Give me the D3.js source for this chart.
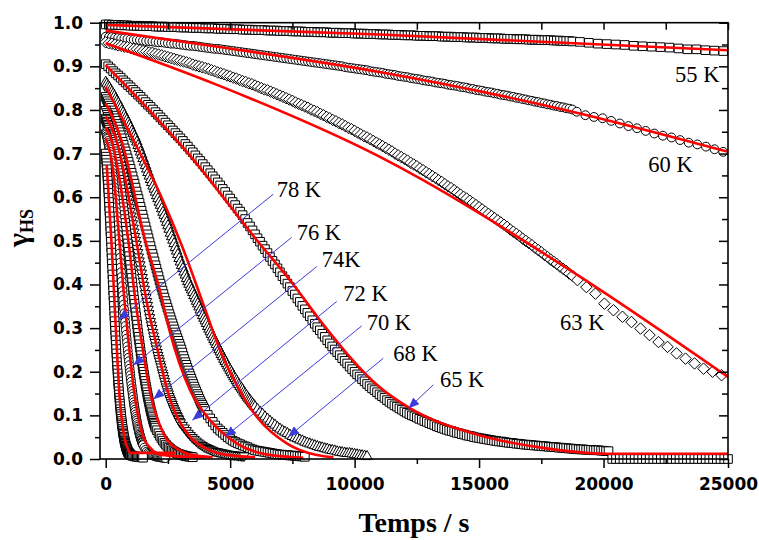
<!DOCTYPE html>
<html><head><meta charset="utf-8">
<script src="https://cdn.jsdelivr.net/npm/d3@7"></script>
<style>body{margin:0;background:#fff}</style>
</head><body>
<svg id="chart" width="759" height="540"></svg>
<script>
// ---------------- DATA ----------------
const xMajorTicks = [0, 5000, 10000, 15000, 20000, 25000];
const xMinorTicks = [2500, 7500, 12500, 17500, 22500];
const yMajorTicks = [0, 0.1, 0.2, 0.3, 0.4, 0.5, 0.6, 0.7, 0.8, 0.9, 1.0];
const yMinorTicks = [0.05, 0.15, 0.25, 0.35, 0.45, 0.55, 0.65, 0.75, 0.85, 0.95];

// measured gamma_HS values; every block = [start time (s), sampling step (s), values]
// 55 K : 0..18750 every 125 s, then every 360 s from 19050
const v55a = [0.996,0.996,0.995,0.995,0.995,0.994,0.994,0.994,
 0.993,0.993,0.993,0.993,0.992,0.992,0.992,0.992,
 0.991,0.991,0.991,0.991,0.990,0.990,0.990,0.990,
 0.989,0.989,0.989,0.989,0.988,0.988,0.988,0.988,
 0.987,0.987,0.987,0.987,0.986,0.986,0.986,0.986,
 0.985,0.985,0.985,0.985,0.984,0.984,0.984,0.984,
 0.983,0.983,0.983,0.983,0.982,0.982,0.982,0.982,
 0.981,0.981,0.981,0.981,0.980,0.980,0.980,0.980,
 0.979,0.979,0.979,0.979,0.978,0.978,0.978,0.978,
 0.977,0.977,0.977,0.977,0.976,0.976,0.976,0.976,
 0.975,0.975,0.975,0.975,0.974,0.974,0.974,0.974,
 0.973,0.973,0.973,0.973,0.972,0.972,0.972,0.972,
 0.971,0.971,0.971,0.971,0.970,0.970,0.970,0.970,
 0.969,0.969,0.969,0.969,0.968,0.968,0.968,0.968,
 0.967,0.967,0.967,0.967,0.966,0.966,0.966,0.966,
 0.965,0.965,0.965,0.965,0.964,0.964,0.964,0.964,
 0.963,0.963,0.963,0.963,0.962,0.962,0.962,0.962,
 0.961,0.961,0.961,0.961,0.960,0.960,0.960,0.960,
 0.959,0.959,0.959,0.958,0.958,0.958,0.957];
const v55b = [0.956,0.954,0.952,0.951,0.950,0.949,0.947,0.946,0.945,0.944,0.943,0.941,0.939,0.939,0.937,0.936,0.935];

// 60 K : 0..18750 every 125 s, then every 346 s from 18924
const v60a = [0.968,0.967,0.967,0.966,0.965,0.964,0.964,0.963,
 0.962,0.961,0.961,0.960,0.959,0.958,0.958,0.957,
 0.956,0.955,0.955,0.954,0.953,0.952,0.952,0.951,
 0.950,0.949,0.948,0.947,0.947,0.946,0.945,0.944,
 0.943,0.942,0.941,0.940,0.940,0.939,0.938,0.937,
 0.936,0.935,0.934,0.933,0.932,0.931,0.930,0.929,
 0.928,0.927,0.926,0.925,0.924,0.923,0.922,0.921,
 0.920,0.919,0.918,0.917,0.916,0.915,0.914,0.913,
 0.912,0.911,0.910,0.909,0.908,0.907,0.906,0.905,
 0.904,0.903,0.902,0.901,0.900,0.898,0.897,0.896,
 0.895,0.894,0.893,0.892,0.891,0.889,0.888,0.887,
 0.886,0.885,0.883,0.882,0.881,0.880,0.878,0.877,
 0.876,0.875,0.873,0.872,0.871,0.870,0.868,0.867,
 0.866,0.865,0.863,0.862,0.861,0.860,0.858,0.857,
 0.856,0.855,0.853,0.852,0.851,0.849,0.848,0.846,
 0.845,0.844,0.842,0.841,0.840,0.838,0.837,0.835,
 0.834,0.833,0.831,0.830,0.828,0.827,0.825,0.824,
 0.822,0.821,0.819,0.818,0.816,0.815,0.813,0.812,
 0.810,0.809,0.807,0.806,0.804,0.803,0.801];
const v60b = [0.796,0.788,0.784,0.781,0.775,0.769,0.763,0.758,0.752,0.746,0.741,0.737,0.731,0.725,0.721,0.716,0.710,0.704];

// 63 K : 0..18750 every 125 s, then every 362 s from 18950
const v63a = [0.955,0.953,0.952,0.950,0.948,0.947,0.945,0.944,
 0.942,0.940,0.939,0.937,0.935,0.934,0.932,0.931,
 0.929,0.927,0.925,0.923,0.921,0.919,0.917,0.915,
 0.913,0.911,0.909,0.907,0.904,0.902,0.900,0.898,
 0.896,0.894,0.891,0.889,0.886,0.884,0.882,0.879,
 0.877,0.874,0.872,0.869,0.866,0.864,0.861,0.859,
 0.856,0.853,0.850,0.847,0.845,0.842,0.839,0.836,
 0.833,0.830,0.827,0.824,0.821,0.817,0.814,0.811,
 0.808,0.805,0.801,0.798,0.795,0.791,0.788,0.784,
 0.781,0.777,0.774,0.770,0.767,0.763,0.759,0.756,
 0.752,0.748,0.744,0.740,0.737,0.733,0.729,0.725,
 0.721,0.717,0.713,0.709,0.705,0.700,0.696,0.692,
 0.688,0.684,0.679,0.675,0.671,0.666,0.662,0.657,
 0.653,0.648,0.644,0.639,0.635,0.630,0.625,0.621,
 0.616,0.611,0.606,0.601,0.597,0.592,0.587,0.582,
 0.577,0.572,0.567,0.562,0.557,0.552,0.547,0.542,
 0.537,0.532,0.526,0.521,0.516,0.511,0.505,0.500,
 0.495,0.490,0.484,0.479,0.474,0.468,0.463,0.457,
 0.452,0.447,0.441,0.436,0.431,0.425,0.420];
const v63b = [0.410,0.394,0.379,0.356,0.341,0.326,0.314,0.299,0.284,0.268,0.257,0.242,0.230,0.219,0.207,0.200,0.192];

// 65 K : 0..12000 every 100 s, 12100..20200 every 100 s, then 0 from 20350 every 150 s
const v65a = [0.905,0.900,0.895,0.889,0.884, 0.879,0.874,0.868,0.863,0.857,
 0.852,0.846,0.841,0.835,0.830, 0.824,0.818,0.812,0.807,0.801,
 0.795,0.789,0.783,0.777,0.771, 0.765,0.759,0.753,0.747,0.741,
 0.735,0.729,0.722,0.716,0.709, 0.703,0.696,0.689,0.683,0.676,
 0.669,0.662,0.655,0.648,0.641, 0.634,0.627,0.619,0.612,0.604,
 0.597,0.589,0.582,0.574,0.567, 0.559,0.550,0.541,0.533,0.524,
 0.515,0.506,0.498,0.489,0.481, 0.472,0.463,0.454,0.446,0.437,
 0.428,0.419,0.411,0.402,0.394, 0.385,0.377,0.368,0.360,0.351,
 0.343,0.335,0.327,0.318,0.310, 0.302,0.295,0.287,0.280,0.272,
 0.265,0.258,0.251,0.245,0.238, 0.231,0.225,0.219,0.212,0.206,
 0.200,0.194,0.189,0.183,0.178, 0.172,0.167,0.162,0.158,0.153,
 0.148,0.144,0.140,0.135,0.131, 0.127,0.123,0.120,0.116,0.113,
 0.109];
const v65b = [0.106,0.103,0.100,0.098,0.095,0.092,0.090,0.087,0.085,0.082,
 0.080,0.078,0.075,0.073,0.071,0.069,0.067,0.065,0.064,0.062,
 0.060,0.059,0.057,0.056,0.054,0.053,0.052,0.050,0.049,0.048,
 0.047,0.046,0.045,0.044,0.043,0.042,0.041,0.040,0.040,0.039,
 0.038,0.037,0.037,0.036,0.035,0.035,0.034,0.033,0.033,0.032,
 0.032,0.031,0.031,0.030,0.030,0.029,0.029,0.028,0.028,0.027,
 0.027,0.026,0.026,0.025,0.025,0.024,0.024,0.023,0.023,0.022,
 0.022,0.022,0.021,0.021,0.021,0.020,0.020,0.020,0.019,0.019,
 0.018,0.018];
const v65c = [0,0,0,0,0,0,0,0,0,0,0,0,0,0,0,0,0,0,0,0,0,0,0,0,0,0,0,0,0,0,0,0];

// 68 K : 0..6000 every 50 s, 6100..10500 every 100 s
const v68a = [0.865,0.861,0.856,0.852,0.847,0.843, 0.838,0.833,0.827,0.822,0.817,0.811,
 0.806,0.800,0.795,0.789,0.783,0.778, 0.772,0.766,0.760,0.753,0.747,0.741,
 0.735,0.728,0.720,0.713,0.705,0.698, 0.690,0.682,0.674,0.666,0.658,0.650,
 0.642,0.635,0.627,0.620,0.613,0.605, 0.598,0.590,0.583,0.575,0.567,0.560,
 0.552,0.544,0.536,0.528,0.519,0.511, 0.503,0.495,0.486,0.478,0.470,0.461,
 0.453,0.445,0.438,0.430,0.423,0.415, 0.408,0.402,0.395,0.389,0.383,0.376,
 0.370,0.363,0.357,0.350,0.343,0.337, 0.330,0.324,0.318,0.312,0.305,0.299,
 0.293,0.287,0.281,0.275,0.270,0.264, 0.258,0.252,0.247,0.241,0.236,0.230,
 0.225,0.220,0.215,0.210,0.205,0.200, 0.195,0.190,0.186,0.181,0.177,0.172,
 0.168,0.164,0.160,0.155,0.151,0.147, 0.143,0.139,0.136,0.132,0.128,0.125,
 0.121];
const v68b = [0.115,0.109,0.104,0.098,0.093,0.088,0.083,0.079,0.074,0.070,
 0.066,0.063,0.060,0.056,0.053,0.050,0.048,0.045,0.043,0.040,
 0.038,0.036,0.034,0.032,0.030,0.028,0.027,0.025,0.024,0.022,
 0.021,0.020,0.018,0.017,0.016,0.015,0.014,0.014,0.013,0.012,
 0.011,0.010,0.009,0.008,0.007];

// 70 K : 0..4000 every 40 s, 4100..8000 every 100 s
const v70a = [0.830,0.825,0.820,0.815,0.810, 0.805,0.799,0.793,0.787,0.781,
 0.775,0.768,0.762,0.755,0.749, 0.742,0.735,0.727,0.720,0.712,
 0.705,0.697,0.689,0.681,0.673, 0.665,0.656,0.648,0.639,0.631,
 0.622,0.613,0.604,0.596,0.587, 0.578,0.569,0.560,0.551,0.542,
 0.533,0.524,0.515,0.506,0.497, 0.488,0.479,0.470,0.462,0.453,
 0.444,0.436,0.427,0.419,0.410, 0.402,0.394,0.386,0.378,0.370,
 0.362,0.355,0.347,0.340,0.332, 0.325,0.318,0.311,0.304,0.297,
 0.290,0.284,0.277,0.271,0.264, 0.258,0.251,0.244,0.236,0.229,
 0.222,0.216,0.209,0.203,0.196, 0.190,0.184,0.178,0.172,0.166,
 0.160,0.155,0.149,0.144,0.138, 0.133,0.128,0.124,0.119,0.115,
 0.110];
const v70b = [0.101,0.093,0.085,0.077,0.070,0.065,0.060,0.055,0.050,0.046,
 0.042,0.039,0.036,0.034,0.031,0.029,0.027,0.024,0.022,0.020,
 0.019,0.018,0.017,0.016,0.015,0.014,0.013,0.012,0.011,0.010,
 0.010,0.009,0.009,0.008,0.008,0.007,0.007,0.006,0.006,0.005];

// 72 K : 0..3000 every 30 s, 3080..5560 every 80 s
const v72a = [0.800,0.795,0.791,0.786,0.782, 0.777,0.771,0.766,0.760,0.755,
 0.749,0.743,0.736,0.730,0.723, 0.717,0.710,0.702,0.695,0.687,
 0.680,0.672,0.664,0.655,0.647, 0.639,0.630,0.621,0.612,0.603,
 0.594,0.585,0.575,0.566,0.556, 0.547,0.538,0.528,0.519,0.509,
 0.500,0.491,0.481,0.472,0.462, 0.453,0.444,0.434,0.425,0.415,
 0.406,0.397,0.388,0.378,0.369, 0.360,0.351,0.342,0.332,0.323,
 0.314,0.306,0.298,0.289,0.281, 0.273,0.266,0.258,0.251,0.243,
 0.236,0.229,0.223,0.216,0.210, 0.203,0.196,0.190,0.183,0.177,
 0.170,0.164,0.159,0.153,0.148, 0.142,0.137,0.133,0.128,0.124,
 0.119,0.115,0.111,0.107,0.103, 0.099,0.096,0.092,0.089,0.085,
 0.082];
const v72b = [0.076,0.070,0.064,0.058,0.053,0.048,0.044,0.040,0.036,0.033,
 0.030,0.027,0.025,0.023,0.021,0.019,0.017,0.016,0.015,0.014,
 0.013,0.012,0.011,0.010,0.009,0.009,0.008,0.008,0.007,0.007,0.006,0.006];

// 74 K : 0..2000 every 20 s, 2060..3500 every 60 s
const v74a = [0.780,0.777,0.773,0.770,0.766, 0.763,0.759,0.755,0.750,0.746,
 0.742,0.737,0.732,0.727,0.722, 0.717,0.711,0.705,0.700,0.694,
 0.688,0.681,0.675,0.668,0.662, 0.655,0.648,0.640,0.633,0.625,
 0.618,0.610,0.602,0.593,0.585, 0.577,0.568,0.559,0.550,0.541,
 0.532,0.523,0.513,0.504,0.494, 0.485,0.475,0.465,0.455,0.445,
 0.435,0.425,0.415,0.405,0.395, 0.385,0.375,0.365,0.356,0.346,
 0.336,0.327,0.317,0.308,0.298, 0.289,0.280,0.272,0.263,0.255,
 0.246,0.238,0.230,0.223,0.215, 0.207,0.200,0.193,0.186,0.179,
 0.172,0.166,0.160,0.153,0.147, 0.141,0.136,0.130,0.125,0.119,
 0.114,0.109,0.105,0.100,0.096, 0.091,0.087,0.083,0.080,0.076,
 0.072];
const v74b = [0.066,0.059,0.053,0.047,0.042,0.037,0.033,0.029,0.026,0.023,
 0.020,0.018,0.016,0.014,0.012,0.011,0.010,0.009,0.008,0.007,
 0.006,0.006,0.005,0.005,0.004];

// 76 K : 0..1500 every 15 s, 1550..2400 every 50 s
const v76a = [0.750,0.747,0.744,0.740,0.737, 0.734,0.729,0.724,0.720,0.715,
 0.710,0.704,0.698,0.691,0.685, 0.679,0.671,0.664,0.656,0.649,
 0.641,0.632,0.623,0.615,0.606, 0.597,0.587,0.577,0.567,0.557,
 0.547,0.536,0.525,0.515,0.504, 0.493,0.482,0.471,0.461,0.450,
 0.439,0.428,0.417,0.407,0.396, 0.385,0.375,0.365,0.354,0.344,
 0.334,0.324,0.314,0.305,0.295, 0.285,0.276,0.267,0.258,0.249,
 0.240,0.232,0.224,0.215,0.207, 0.199,0.192,0.184,0.177,0.169,
 0.162,0.156,0.149,0.143,0.136, 0.130,0.124,0.119,0.113,0.108,
 0.102,0.097,0.092,0.088,0.083, 0.078,0.074,0.070,0.067,0.063,
 0.059,0.056,0.053,0.050,0.047, 0.044,0.042,0.039,0.037,0.034,
 0.032];
const v76b = [0.026,0.021,0.017,0.014,0.012,0.010,0.009,0.008,0.007,0.006,
 0.005,0.005,0.004,0.004,0.003,0.003,0.003,0.002];

// 78 K : 0..1000 every 10 s, 1050..1500 every 50 s
const v78a = [0.700,0.693,0.686,0.678,0.671, 0.664,0.655,0.646,0.638,0.629,
 0.620,0.610,0.599,0.589,0.578, 0.568,0.556,0.545,0.533,0.522,
 0.510,0.498,0.485,0.473,0.460, 0.448,0.436,0.423,0.411,0.398,
 0.386,0.374,0.362,0.351,0.339, 0.327,0.316,0.305,0.294,0.283,
 0.272,0.262,0.252,0.242,0.232, 0.222,0.213,0.204,0.196,0.187,
 0.178,0.170,0.163,0.155,0.148, 0.140,0.134,0.127,0.121,0.114,
 0.108,0.103,0.098,0.092,0.087, 0.082,0.078,0.074,0.069,0.065,
 0.061,0.058,0.055,0.051,0.048, 0.045,0.042,0.040,0.037,0.035,
 0.032,0.030,0.028,0.027,0.025, 0.023,0.022,0.020,0.019,0.017,
 0.016,0.015,0.014,0.014,0.013, 0.012,0.011,0.011,0.010,0.010,
 0.009];
const v78b = [0.008,0.007,0.006,0.006,0.005,0.005,0.004,0.004,0.004,0.003];

// fitted curves [time s, gamma_HS]
const fit55 = [[0,0.995],[11000,0.973],[25000,0.937]];
const fit60 = [[0,0.982],[4500,0.945],[11000,0.887],[18750,0.796],[25000,0.704]];
const fit63 = [[0,0.953],[4500,0.857],[11000,0.693],[18650,0.433],[25000,0.188]];
const fit65 = [[0,0.903],[3320,0.70],[6066,0.502],[7536,0.40],[8609,0.318],[11000,0.165],[12150,0.119],[15050,0.054],[17500,0.026],[20150,0.012],[25000,0.012]];
const fit68 = [[0,0.853],[1112,0.731],[2200,0.605],[3053,0.49],[3921,0.355],[4592,0.25],[5262,0.17],[6066,0.097],[7271,0.036],[8477,0.009],[9150,0.004]];
const fit70 = [[0,0.815],[630,0.731],[1594,0.5],[2181,0.385],[2583,0.29],[3387,0.158],[4190,0.089],[5262,0.036],[6500,0.01],[7938,0.003]];
const fit72 = [[0,0.785],[430,0.731],[1232,0.5],[1634,0.364],[1995,0.272],[2517,0.15],[3400,0.05],[4000,0.025],[4804,0.01],[6000,0.004]];
const fit74 = [[0,0.76],[229,0.731],[911,0.5],[1192,0.364],[1433,0.272],[1794,0.15],[2397,0.05],[2900,0.022],[3400,0.01],[4300,0.004]];
const fit76 = [[0,0.735],[300,0.66],[550,0.5],[751,0.364],[911,0.272],[1152,0.15],[1513,0.05],[1800,0.025],[2196,0.01],[4000,0.003]];
const fit78 = [[40,0.674],[229,0.5],[349,0.364],[430,0.272],[550,0.15],[751,0.05],[900,0.022],[1000,0.014],[2790,0.014]];

// annotations (data coordinates)
const labelTexts = ["78 K","76 K","74K","72 K","70 K","68 K","65 K","63 K","60 K","55 K"];
const labelAt = [[6870,0.600],[7673,0.502],[8678,0.441],[9545,0.361],[10485,0.296],[11554,0.225],[13430,0.164],[18251,0.296],[21799,0.658],[22871,0.865]];
const arrowFrom = [[6733,0.607],[7472,0.508],[8477,0.441],[9280,0.361],[10285,0.305],[11152,0.231],[13161,0.170]];
const arrowTo = [[506,0.319],[1109,0.215],[1912,0.137],[3479,0.089],[4793,0.051],[7336,0.051],[12157,0.116]];

// ---------------- CHART ----------------
const svg = d3.select("#chart");
svg.append("rect").attr("width",759).attr("height",540).attr("fill","#fff");
const X0 = 100, X1 = 728, Y0 = 459, Y1 = 22.7;
const x = d3.scaleLinear().domain([-229, 25000]).range([X0, X1]);
const y = d3.scaleLinear().domain([0, 1]).range([Y0, Y1]);

const symSquare = {draw(c,s){const h=s/2;c.moveTo(-h,-h);c.lineTo(h,-h);c.lineTo(h,h);c.lineTo(-h,h);c.closePath();}};
const symCircle = {draw(c,s){const r=s/2;c.moveTo(r,0);c.arc(0,0,r,0,2*Math.PI);}};
const symTriUp = {draw(c,s){const h=s*0.866;c.moveTo(0,-h*0.6);c.lineTo(s/2,h*0.4);c.lineTo(-s/2,h*0.4);c.closePath();}};
const symTriDown = {draw(c,s){const h=s*0.866;c.moveTo(0,h*0.6);c.lineTo(s/2,-h*0.4);c.lineTo(-s/2,-h*0.4);c.closePath();}};
const symDiamond = {draw(c,s){const r=s/2;c.moveTo(0,-r);c.lineTo(r,0);c.lineTo(0,r);c.lineTo(-r,0);c.closePath();}};

const seriesTable = [
  {sym:symSquare, size:8.6, blocks:[[0,125,v55a],[19050,360,v55b]]},
  {sym:symCircle, size:8.8, blocks:[[0,125,v60a],[18924,346,v60b]]},
  {sym:symDiamond, size:11.5, blocks:[[0,125,v63a],[18950,362,v63b]]},
  {sym:symSquare, size:8.6, blocks:[[0,100,v65a],[12100,100,v65b],[20350,150,v65c]]},
  {sym:symTriUp, size:10.5, blocks:[[0,50,v68a],[6100,100,v68b]]},
  {sym:symSquare, size:8.6, blocks:[[0,40,v70a],[4100,100,v70b]]},
  {sym:symTriDown, size:10, blocks:[[0,30,v72a],[3080,80,v72b]]},
  {sym:symSquare, size:8.6, blocks:[[0,20,v74a],[2060,60,v74b]]},
  {sym:symCircle, size:8.8, blocks:[[0,15,v76a],[1550,50,v76b]]},
  {sym:symSquare, size:8.6, blocks:[[0,10,v78a],[1050,50,v78b]]}
];

const gData = svg.append("g");
seriesTable.forEach(s => {
  const pts = [];
  s.blocks.forEach(([t0, dt, vals]) => vals.forEach((v,i) => pts.push([t0 + i*dt, v])));
  const path = d3.symbol().type(s.sym).size(s.size)();
  gData.append("g").selectAll("path").data(pts).join("path")
    .attr("d", path)
    .attr("transform", d => `translate(${x(d[0])},${y(d[1])})`)
    .attr("fill","#fff").attr("stroke","#000").attr("stroke-width",1);
});

const line = d3.line().x(d=>x(d[0])).y(d=>y(d[1])).curve(d3.curveMonotoneX);
[fit55,fit60,fit63,fit65,fit68,fit70,fit72,fit74,fit76,fit78].forEach(f => {
  svg.append("path").attr("d", line(f)).attr("fill","none")
    .attr("stroke","#ff0000").attr("stroke-width",2.6);
});

const tickFont = g => g.selectAll("text").attr("font-family","'DejaVu Sans', Verdana, sans-serif")
  .attr("font-weight","bold").attr("font-size","17px").attr("fill","#000");
const clean = g => { g.select(".domain").remove(); g.selectAll("line").attr("stroke","#000").attr("stroke-width",1.5); };

svg.append("g").attr("transform",`translate(${X0},0)`)
  .call(d3.axisLeft(y).tickValues(yMajorTicks).tickSize(10).tickPadding(7).tickFormat(d3.format(".1f")))
  .call(clean).call(tickFont);
svg.append("g").attr("transform",`translate(${X0},0)`)
  .call(d3.axisLeft(y).tickValues(yMinorTicks).tickSize(5).tickFormat("")).call(clean);
svg.append("g").attr("transform",`translate(${X1},0)`)
  .call(d3.axisRight(y).tickValues(yMajorTicks).tickSize(-9).tickFormat("")).call(clean);
svg.append("g").attr("transform",`translate(${X1},0)`)
  .call(d3.axisRight(y).tickValues(yMinorTicks).tickSize(-6).tickFormat("")).call(clean);
svg.append("g").attr("transform",`translate(0,${Y0})`)
  .call(d3.axisBottom(x).tickValues(xMajorTicks).tickSize(9).tickPadding(10).tickFormat(d3.format("d")))
  .call(clean).call(tickFont);
svg.append("g").attr("transform",`translate(0,${Y0})`)
  .call(d3.axisBottom(x).tickValues(xMinorTicks).tickSize(5).tickFormat("")).call(clean);
svg.append("g").attr("transform",`translate(0,${Y1})`)
  .call(d3.axisTop(x).tickValues(xMajorTicks.concat(xMinorTicks)).tickSize(-7).tickFormat("")).call(clean);

svg.append("rect").attr("x",X0).attr("y",Y1).attr("width",X1-X0).attr("height",Y0-Y1)
  .attr("fill","none").attr("stroke","#000").attr("stroke-width",1.6);

const blue = "#3c3cd8";
svg.append("defs").append("marker").attr("id","ah")
  .attr("markerUnits","userSpaceOnUse").attr("markerWidth",12).attr("markerHeight",10)
  .attr("refX",11).attr("refY",4.5).attr("orient","auto")
  .append("path").attr("d","M0,0 L11,4.5 L0,9 Z").attr("fill",blue);
arrowFrom.forEach((a,i) => {
  svg.append("line").attr("x1",x(a[0])).attr("y1",y(a[1]))
    .attr("x2",x(arrowTo[i][0])).attr("y2",y(arrowTo[i][1]))
    .attr("stroke",blue).attr("stroke-width",1).attr("marker-end","url(#ah)");
});

labelTexts.forEach((t,i) => {
  svg.append("text").attr("x",x(labelAt[i][0])).attr("y",y(labelAt[i][1]))
    .attr("font-family","'Liberation Serif','Times New Roman',serif").attr("font-size","22.5px")
    .attr("fill","#000").text(t);
});

svg.append("text").attr("x",(X0+X1)/2).attr("y",532).attr("text-anchor","middle")
  .attr("font-family","'Liberation Serif','Times New Roman',serif").attr("font-weight","bold")
  .attr("font-size","28px").text("Temps / s");
const yt = svg.append("text").attr("transform","translate(28,228) rotate(-90)").attr("text-anchor","middle")
  .attr("font-family","'Liberation Serif','Times New Roman',serif").attr("font-weight","bold");
yt.append("tspan").attr("font-size","30px").text("γ");
yt.append("tspan").attr("font-size","18px").attr("dy","5").text("HS");
</script>
</body></html>
